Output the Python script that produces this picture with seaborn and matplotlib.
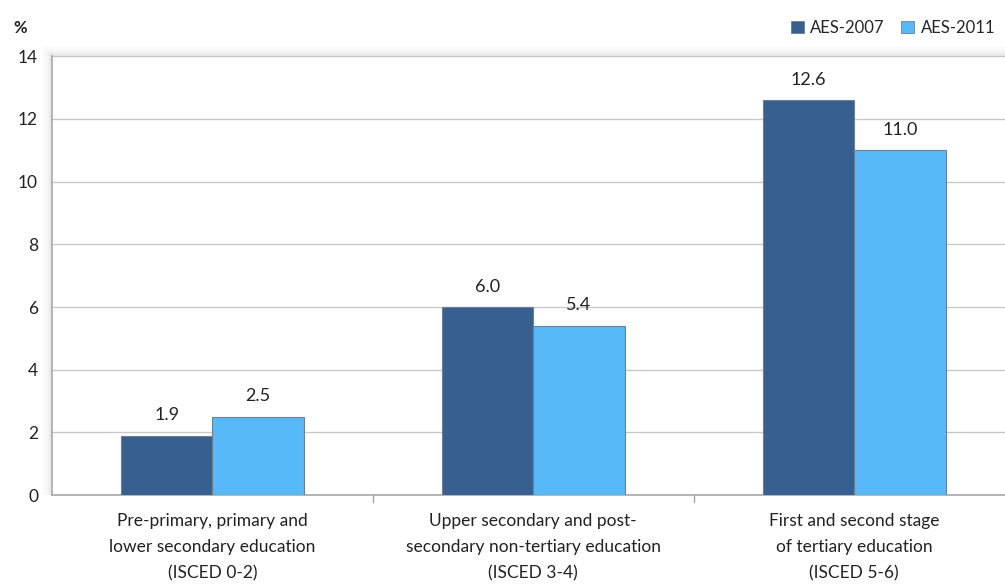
import matplotlib
matplotlib.use("Agg")
import matplotlib.pyplot as plt
from matplotlib.patches import Rectangle, Patch
import seaborn as sns
import pandas as pd

categories = [
    "Pre-primary, primary and\nlower secondary education\n(ISCED 0-2)",
    "Upper secondary and post-\nsecondary non-tertiary education\n(ISCED 3-4)",
    "First and second stage\nof tertiary education\n(ISCED 5-6)",
]
series_names = ["AES-2007", "AES-2011"]
aes_2007 = [1.9, 6.0, 12.6]
aes_2011 = [2.5, 5.4, 11.0]
y_ticks = [0, 2, 4, 6, 8, 10, 12, 14]

colors = ["#375f8f", "#57b9f8"]

df = pd.DataFrame({
    "category": categories * 2,
    "series": [series_names[0]] * 3 + [series_names[1]] * 3,
    "value": aes_2007 + aes_2011,
})

sns.set_theme(style="white")
plt.rcParams["font.family"] = ["Lato", "DejaVu Sans"]

fig = plt.figure(figsize=(10.05, 5.86), dpi=100)
ax = fig.add_axes([0.0517, 0.155, 0.9483, 0.749])
ax.set_zorder(2)

# soft shadow along the left and top of the plot area
for i, a in enumerate([0.06, 0.045, 0.03, 0.02, 0.012]):
    off = (i + 1) * 0.0022
    fig.patches.append(Rectangle((0.0517 - off, 0.155), 0.96, 0.749 + off * 1.7,
                                 transform=fig.transFigure, facecolor="#808080",
                                 alpha=a, edgecolor="none", zorder=0))

sns.barplot(data=df, x="category", y="value", hue="series", palette=colors,
            saturation=1, width=0.57, ax=ax, edgecolor="#6d7f93", linewidth=0.8,
            legend=False, zorder=3)

ax.set_facecolor("white")
ax.set_xlim(-0.5, 2.47)
ax.set_ylim(0, 14)
ax.set_yticks(y_ticks)
ax.set_yticklabels([str(t) for t in y_ticks], fontsize=12.5, color="#222222")
ax.yaxis.grid(True, color="#c8c8c8", linewidth=1.0, zorder=0)
ax.set_axisbelow(True)

ax.set_xticks([0, 1, 2])
ax.set_xticklabels(categories, fontsize=12.5, color="#222222", linespacing=1.75)
ax.tick_params(axis="x", length=0, pad=13)
ax.tick_params(axis="y", length=0, pad=10)
for b in [0.5, 1.5]:
    ax.plot([b, b], [0, -0.22], color="#a0a0a0", lw=1, clip_on=False, zorder=4)

for s in ["top", "right"]:
    ax.spines[s].set_visible(False)
ax.spines["left"].set_color("#a8a8a8")
ax.spines["left"].set_linewidth(1.2)
ax.spines["bottom"].set_color("#a8a8a8")
ax.spines["bottom"].set_linewidth(1.2)
ax.set_xlabel("")
ax.set_ylabel("")

for container in ax.containers:
    ax.bar_label(container, fmt="%.1f", padding=9, fontsize=13, color="#222222")

fig.text(0.013, 0.953, "%", fontsize=12, color="#222222", ha="left", va="center",
         fontweight="bold")

handles = [Patch(facecolor=c, edgecolor="#6d7f93", linewidth=0.6) for c in colors]
fig.legend(handles, series_names, loc="center right", bbox_to_anchor=(1.0, 0.953),
           ncol=2, frameon=False, fontsize=12, handlelength=0.75, handleheight=0.75,
           handletextpad=0.4, columnspacing=1.0, borderaxespad=0.2)

fig.savefig("out.png", dpi=100, facecolor="white")
